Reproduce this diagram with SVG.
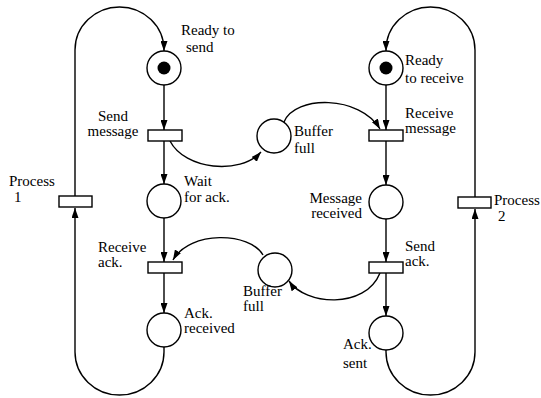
<svg xmlns="http://www.w3.org/2000/svg" width="541" height="398" viewBox="0 0 541 398">
<defs>
<style>
.pl{fill:#fff;stroke:#000;stroke-width:1.4}
.tr{fill:#fff;stroke:#000;stroke-width:1.4}
.tok{fill:#000}
.arc{fill:none;stroke:#000;stroke-width:1.4;marker-end:url(#ah)}
text{font-family:"Liberation Serif","Times New Roman",serif;font-size:15px;fill:#000}
</style>
<marker id="ah" markerWidth="10" markerHeight="7" refX="10" refY="3.5" orient="auto" markerUnits="userSpaceOnUse">
<path d="M0,0 L10,3.5 L0,7 z" fill="#000"/>
</marker>
</defs>
<rect width="541" height="398" fill="#fff"/>
<g id="connectors">
<path class="arc" d="M164,85 L164,130"/>
<path class="arc" d="M164,141 L164,184"/>
<path class="arc" d="M164,218 L164,262"/>
<path class="arc" d="M164,273 L164,313"/>
<path class="arc" d="M386,85 L386,130"/>
<path class="arc" d="M386,141 L386,185"/>
<path class="arc" d="M386,219 L386,262"/>
<path class="arc" d="M386,273 L386,316"/>
<path class="arc" d="M170,141 C185,170 240,175 261,152"/>
<path class="arc" d="M284,122 C295,95 360,95 380,129"/>
<path class="arc" d="M263,255 C250,232 190,230 173,260"/>
<path class="arc" d="M380,273 C365,310 305,305 289,281"/>
<path class="arc" d="M75,196 L75,50 A44.5,43 0 0 1 164,50 L164,51"/>
<path class="arc" d="M164,347 L164,352 A44.5,43 0 0 1 75,352 L75,208"/>
<path class="arc" d="M475,197 L475,50 A44.5,43 0 0 0 386,50 L386,51"/>
<path class="arc" d="M386,350 L386,352 A44.5,43 0 0 0 475,352 L475,209"/>
</g>
<g id="ready-to-send"><circle class="pl" cx="164" cy="68" r="17"/><circle class="tok" cx="164" cy="68" r="6.5"/><text x="181" y="35">Ready to</text><text x="186" y="52">send</text></g>
<g id="send-message"><rect class="tr" x="148" y="130" width="34" height="11"/><text x="113" y="121" text-anchor="middle">Send</text><text x="113" y="136" text-anchor="middle">message</text></g>
<g id="wait-for-ack"><circle class="pl" cx="164" cy="201" r="17"/><text x="184" y="186">Wait</text><text x="184" y="202">for ack.</text></g>
<g id="receive-ack"><rect class="tr" x="148" y="262" width="34" height="11"/><text x="98" y="252">Receive</text><text x="98" y="267">ack.</text></g>
<g id="ack-received"><circle class="pl" cx="164" cy="330" r="17"/><text x="184" y="318">Ack.</text><text x="184" y="333">received</text></g>
<g id="process-1"><rect class="tr" x="59" y="196" width="33" height="11"/><text x="9" y="186">Process</text><text x="14" y="202">1</text></g>
<g id="buffer-full-1"><circle class="pl" cx="274" cy="136" r="17"/><text x="294" y="136">Buffer</text><text x="294" y="153">full</text></g>
<g id="buffer-full-2"><circle class="pl" cx="275" cy="270" r="17"/><text x="243" y="296">Buffer</text><text x="243" y="311">full</text></g>
<g id="ready-to-receive"><circle class="pl" cx="386" cy="68" r="17"/><circle class="tok" cx="386" cy="68" r="6.5"/><text x="405" y="65">Ready</text><text x="405" y="83">to receive</text></g>
<g id="receive-message"><rect class="tr" x="369" y="130" width="34" height="11"/><text x="405" y="118">Receive</text><text x="405" y="133">message</text></g>
<g id="message-received"><circle class="pl" cx="386" cy="202" r="17"/><text x="362" y="203" text-anchor="end">Message</text><text x="362" y="218" text-anchor="end">received</text></g>
<g id="send-ack"><rect class="tr" x="369" y="262" width="34" height="11"/><text x="405" y="251">Send</text><text x="405" y="266">ack.</text></g>
<g id="ack-sent"><circle class="pl" cx="386" cy="333" r="17"/><text x="343" y="349">Ack.</text><text x="343" y="368">sent</text></g>
<g id="process-2"><rect class="tr" x="458" y="197" width="33" height="11"/><text x="494" y="205">Process</text><text x="498" y="221">2</text></g>
</svg>
